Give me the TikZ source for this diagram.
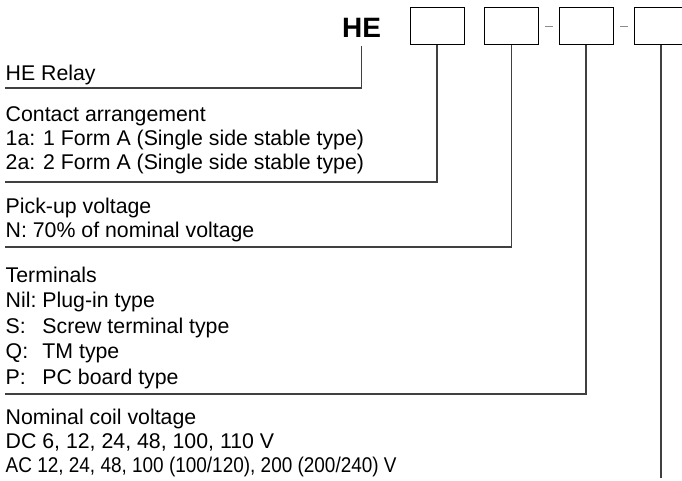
\documentclass[tikz,border=0pt]{standalone}
\usepackage{fontspec}
\setmainfont{Liberation Sans}
\begin{document}
\begin{tikzpicture}[x=1pt,y=-1pt,
  lbl/.style={anchor=base west, inner sep=0pt, font=\fontsize{21.3}{24}\selectfont},
  codebox/.style={draw=black, line width=1pt, minimum width=54pt, minimum height=37pt, inner sep=0pt},
  lead/.style={draw=black!75, line width=1.2pt},
  joiner/.style={draw=black!45, line width=1.2pt, shorten >=6pt, shorten <=6pt}]
\useasboundingbox (0,0) rectangle (682,481);
% code header
\node[anchor=base west, inner sep=0pt, font=\bfseries\fontsize{28}{30}\selectfont] (he) at (342,38) {HE};
\node[codebox] (b1) at (437,26.5) {};
\node[codebox] (b2) at (511.5,26.5) {};
\node[codebox] (b3) at (586,26.5) {};
\node[codebox] (b4) at (661,26.5) {};
\draw[joiner] (b2.east) -- (b3.west);
\draw[joiner] (b3.east) -- (b4.west);
% labels
\node[lbl] (t0) at (5.5,81) {HE Relay};
\node[lbl] (t1) at (5.5,122) {Contact arrangement};
\node[lbl] (t1a) at (5.5,146) {1a: 1 Form A (Single side stable type)};
\node[lbl] (t1b) at (5.5,170) {2a: 2 Form A (Single side stable type)};
\node[lbl] (t2) at (5.5,213) {Pick-up voltage};
\node[lbl] (t2a) at (5.5,237) {N: 70\% of nominal voltage};
\node[lbl] (t3) at (5.5,282) {Terminals};
\node[lbl] (t3a) at (5.5,307) {\makebox[36.7pt][l]{Nil:}Plug-in type};
\node[lbl] (t3b) at (5.5,333) {\makebox[36.7pt][l]{S:}Screw terminal type};
\node[lbl] (t3c) at (5.5,358) {\makebox[36.7pt][l]{Q:}TM type};
\node[lbl] (t3d) at (5.5,384) {\makebox[36.7pt][l]{P:}PC board type};
\node[lbl] (t4) at (5.5,424) {Nominal coil voltage};
\node[lbl] (t4a) at (5.5,448) {DC 6, 12, 24, 48, 100, 110 V};
\node[lbl] (t4b) at (5.5,472) {\scalebox{0.89}[1]{AC 12, 24, 48, 100 (100/120), 200 (200/240) V}};
% leader lines
\coordinate (e0) at (5,88);
\coordinate (e1) at (5,182);
\coordinate (e2) at (5,247);
\coordinate (e3) at (5,394);
\coordinate (e4) at (661,478);
\draw[lead] ([yshift=-8pt]he.south) |- (e0);
\draw[lead] (b1.south) |- (e1);
\draw[lead] (b2.south) |- (e2);
\draw[lead] (b3.south) |- (e3);
\draw[lead] (b4.south) -- (e4);
\end{tikzpicture}
\end{document}
